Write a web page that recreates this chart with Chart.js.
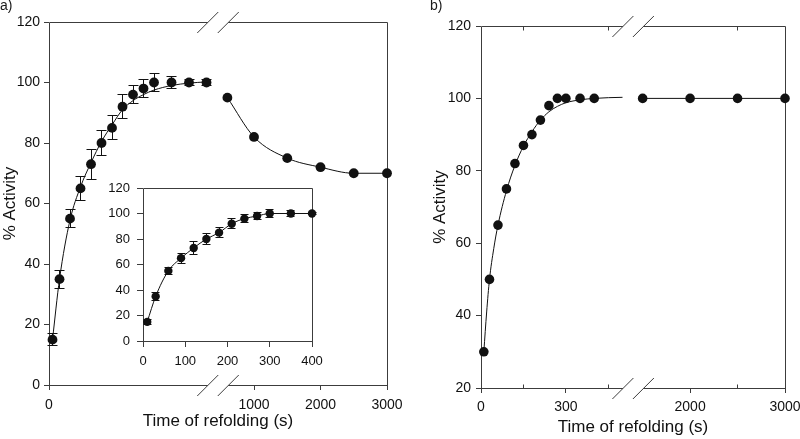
<!DOCTYPE html>
<html>
<head>
<meta charset="utf-8">
<script src="https://cdn.jsdelivr.net/npm/chart.js@4.4.0/dist/chart.umd.min.js"></script>
<style>
  html, body { margin: 0; padding: 0; background: #fff; }
  #wrap { position: relative; width: 800px; height: 439px; overflow: hidden; font-family: "Liberation Sans", Arial, sans-serif; }
  canvas { position: absolute; }
  .tag { position: absolute; font-size: 14px; line-height: 14px; color: #1a1a1a; }
</style>
</head>
<body>
<div id="wrap">
  <canvas id="panelA" width="410" height="439" style="left:0;top:0"></canvas>
  <canvas id="panelB" width="400" height="439" style="left:400px;top:0"></canvas>
  <canvas id="inset" width="240" height="190" style="left:95px;top:180px"></canvas>
  <div class="tag" style="left:0;top:-2px">a)</div>
  <div class="tag" style="left:430px;top:-2px">b)</div>
</div>
<script>
// ---- panel a) : refolding, measured points with error bars
const timeA = [10, 30, 60, 90, 120, 150, 180, 210, 240, 270, 300, 350, 400, 450];
const activityA = [15, 35, 55, 65, 73, 80, 85, 92, 96, 98, 100, 100, 100, 100];
const errorA = [2, 3, 3, 4, 5, 4, 4, 4, 3, 3, 3, 2, 1, 1];
const fitA = [15, 35, 54.5, 65.5, 73.5, 80.5, 86, 91, 94, 96, 97.5, 99, 99.8, 100.2];
// after the axis break
const timeA2 = [600, 1000, 1500, 2000, 2500, 3000];
const activityA2 = [95, 82, 75, 72, 70, 70];
const tickTimesA = [0, 1000, 2000, 3000];

// ---- inset of a)
const timeInset = [10, 30, 60, 90, 120, 150, 180, 210, 240, 270, 300, 350, 400];
const activityInset = [15, 35, 55, 65, 73, 80, 85, 92, 96, 98, 100, 100, 100];
const errorInset = [2, 3, 3, 4, 5, 4, 4, 4, 3, 3, 3, 2, 1];
const tickTimesInset = [0, 100, 200, 300, 400];

// ---- panel b)
const timeB = [10, 30, 60, 90, 120, 150, 180, 210, 240, 270, 300, 350, 400];
const activityB = [30, 50, 65, 75, 82, 87, 90, 94, 98, 100, 100, 100, 100];
const fitTimeB = [10, 20, 30, 45, 60, 90, 120, 150, 180, 210, 240, 270, 300, 350, 400, 450, 500];
const fitB = [30, 41, 50, 58.5, 65, 74.5, 81.5, 86.8, 90.8, 94, 96.3, 97.8, 98.8, 99.6, 100, 100.2, 100.3];
const timeB2 = [1500, 2000, 2500, 3000];
const activityB2 = [100, 100, 100, 100];
const tickTimesB = [0, 300, 2000, 3000];
const minorTimesB = [150, 450, 2500];

// broken x axes: seconds -> position along the drawn axis
const axisA = t => (t < 500 ? t * 0.35 : 205 + (t - 1000) * 0.0665);
const axisB = t => (t < 1000 ? t * 0.2833 : 209.3 + (t - 2000) * 0.095);
const noBreak = t => t;

const ink = '#111';
const axisInk = '#3c3c3c';
const family = "'Liberation Sans', Arial, sans-serif";

const pts = (ts, vs, map) => ts.map((t, i) => ({ x: map(t), y: vs[i] }));
const align = p => Math.round(p - 0.5) + 0.5;

// box around the plot, with the // marks where the time axis is cut
function framePlugin(breakAt, minor) {
  return {
    id: 'frame',
    beforeDatasetsDraw(chart) {
      const { ctx, chartArea: a } = chart;
      const xs = chart.scales.x;
      const L = align(a.left), R = align(a.right), T = align(a.top), B = align(a.bottom);
      ctx.save();
      ctx.strokeStyle = axisInk;
      ctx.lineWidth = 1;
      ctx.beginPath();
      ctx.moveTo(L, T); ctx.lineTo(L, B);
      ctx.moveTo(R, T); ctx.lineTo(R, B);
      if (breakAt == null) {
        ctx.moveTo(L, T); ctx.lineTo(R, T);
        ctx.moveTo(L, B); ctx.lineTo(R, B);
      } else {
        const bx = xs.getPixelForValue(breakAt);
        [T, B].forEach(y => {
          ctx.moveTo(L, y); ctx.lineTo(bx - 10.25, y);
          ctx.moveTo(bx + 10.25, y); ctx.lineTo(R, y);
          [bx - 10.25, bx + 10.25].forEach(cx => {
            ctx.moveTo(cx - 10.5, y + 10.5); ctx.lineTo(cx + 10.5, y - 10.5);
          });
        });
      }
      (minor || []).forEach(v => {
        const px = align(xs.getPixelForValue(v));
        ctx.moveTo(px, B); ctx.lineTo(px, B - 4);
        ctx.moveTo(px, T); ctx.lineTo(px, T + 4);
      });
      ctx.stroke();
      ctx.restore();
    }
  };
}

function errorBarPlugin(cap) {
  return {
    id: 'errorBars',
    beforeDatasetsDraw(chart) {
      const { ctx } = chart;
      const xs = chart.scales.x, ys = chart.scales.y;
      ctx.save();
      ctx.strokeStyle = ink;
      ctx.lineWidth = 1;
      chart.data.datasets.forEach(ds => {
        if (!ds.errors) return;
        ds.data.forEach((p, i) => {
          const e = ds.errors[i];
          if (!e) return;
          const px = align(xs.getPixelForValue(p.x));
          const hi = align(ys.getPixelForValue(p.y + e));
          const lo = align(ys.getPixelForValue(p.y - e));
          ctx.beginPath();
          ctx.moveTo(px, hi); ctx.lineTo(px, lo);
          ctx.moveTo(px - cap, hi); ctx.lineTo(px + cap, hi);
          ctx.moveTo(px - cap, lo); ctx.lineTo(px + cap, lo);
          ctx.stroke();
        });
      });
      ctx.restore();
    }
  };
}

function markers(data, r, errors) {
  return { data, errors, showLine: false, pointRadius: r, pointHoverRadius: r,
    pointBackgroundColor: ink, pointBorderColor: ink, pointBorderWidth: 0, clip: false };
}
function curve(data) {
  return { data, showLine: true, pointRadius: 0, borderColor: ink, borderWidth: 1,
    cubicInterpolationMode: 'monotone', clip: false };
}

function options(c) {
  return {
    responsive: false,
    animation: false,
    events: [],
    layout: { padding: c.pad },
    plugins: { legend: { display: false }, tooltip: { enabled: false } },
    scales: {
      x: {
        type: 'linear', min: c.xMin, max: c.xMax,
        afterBuildTicks: s => { s.ticks = c.xTicks.map(t => ({ value: c.map(t) })); },
        afterFit: s => { s.height = c.xHeight; s.paddingLeft = 0; s.paddingRight = 0; },
        ticks: { autoSkip: false, maxRotation: 0, padding: c.xPad, color: ink,
          font: { family, size: c.tickSize }, callback: (v, i) => String(c.xTicks[i]) },
        grid: { drawOnChartArea: false, tickLength: c.tick, color: axisInk },
        border: { display: false },
        title: { display: c.xTitle, text: 'Time of refolding (s)', color: ink,
          font: { family, size: 17 }, padding: { top: 0, bottom: c.xTitlePad || 0 } }
      },
      y: {
        min: c.yMin, max: 120,
        afterFit: s => { s.width = c.yWidth; s.paddingTop = 0; s.paddingBottom = 0; },
        ticks: { stepSize: 20, padding: c.yPad, color: ink, font: { family, size: c.tickSize } },
        grid: { drawOnChartArea: false, tickLength: c.tick, color: axisInk },
        border: { display: false },
        title: { display: c.yTitle, text: '% Activity', color: ink,
          font: { family, size: 17 }, padding: { top: 0, bottom: 0 } }
      }
    }
  };
}

new Chart(document.getElementById('panelA'), {
  type: 'scatter',
  data: {
    datasets: [
      markers(pts(timeA, activityA, axisA), 4.9, errorA),
      markers(pts(timeA2, activityA2, axisA), 4.9),
      curve(pts(timeA, fitA, axisA)),
      curve(pts(timeA2, activityA2, axisA))
    ]
  },
  options: options({
    pad: { left: 0, top: 22, right: 23, bottom: 0 },
    xMin: 0, xMax: axisA(3000), map: axisA, xTicks: tickTimesA,
    xHeight: 54, xPad: 7, xTitle: true, xTitlePad: 7, tick: 5, tickSize: 14,
    yMin: 0, yWidth: 49, yPad: 4, yTitle: true
  }),
  plugins: [framePlugin(169), errorBarPlugin(5)]
});

new Chart(document.getElementById('inset'), {
  type: 'scatter',
  data: {
    datasets: [
      markers(pts(timeInset, activityInset, noBreak), 4.2, errorInset),
      curve(pts(timeInset, activityInset, noBreak))
    ]
  },
  options: options({
    pad: { left: 0, top: 8, right: 23, bottom: 0 },
    xMin: 0, xMax: 400, map: noBreak, xTicks: tickTimesInset,
    xHeight: 29, xPad: 7, xTitle: false, tick: 6, tickSize: 13,
    yMin: 0, yWidth: 48, yPad: 7, yTitle: false
  }),
  plugins: [framePlugin(null), errorBarPlugin(4)]
});

new Chart(document.getElementById('panelB'), {
  type: 'scatter',
  data: {
    datasets: [
      markers(pts(timeB, activityB, axisB), 4.8),
      markers(pts(timeB2, activityB2, axisB), 4.8),
      curve(pts(fitTimeB, fitB, axisB)),
      curve(pts(timeB2, activityB2, axisB))
    ]
  },
  options: options({
    pad: { left: 30, top: 26, right: 15, bottom: 0 },
    xMin: 0, xMax: axisB(3000), map: axisB, xTicks: tickTimesB,
    xHeight: 51, xPad: 6, xTitle: true, xTitlePad: 1, tick: 5, tickSize: 14,
    yMin: 20, yWidth: 51, yPad: 5, yTitle: true
  }),
  plugins: [framePlugin(152.3, minorTimesB.map(axisB))]
});
</script>
</body>
</html>
